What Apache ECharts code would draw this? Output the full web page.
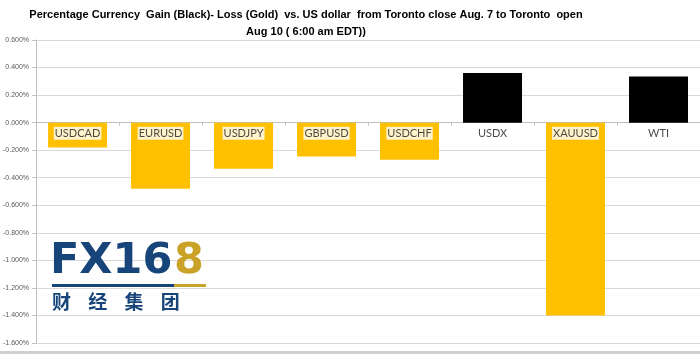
<!DOCTYPE html>
<html>
<head>
<meta charset="utf-8">
<script src="https://cdn.jsdelivr.net/npm/echarts@6/dist/echarts.min.js"></script>
<style>
  html, body { margin: 0; padding: 0; background: #fff; }
  #chart { width: 700px; height: 354px; }
</style>
</head>
<body>
<div id="chart"></div>
<script>
// pares e variação % vs USD
const categories = ['USDCAD', 'EURUSD', 'USDJPY', 'GBPUSD', 'USDCHF', 'USDX', 'XAUUSD', 'WTI'];
const changes = [-0.18, -0.48, -0.335, -0.245, -0.27, 0.36, -1.40, 0.335];
const yTicks = [-1.6, 0.6, 0.2]; // min, max, passo

const GOLD = '#FFC000';
const BLACK = '#000000';

const chart = echarts.init(document.getElementById('chart'));

const option = {
  animation: false,
  title: {
    text: 'Percentage Currency  Gain (Black)- Loss (Gold)  vs. US dollar  from Toronto close Aug. 7 to Toronto  open\nAug 10 ( 6:00 am EDT))',
    left: 301,
    top: 1,
    textAlign: 'center',
    textStyle: {
      fontFamily: 'Liberation Sans, sans-serif',
      fontSize: 11,
      fontWeight: 'bold',
      color: '#000',
      lineHeight: 17
    }
  },
  grid: { left: 32, right: 0, top: 40, bottom: 11 },
  xAxis: {
    type: 'category',
    data: categories,
    axisLine: { onZero: true, lineStyle: { color: '#bfbfbf' } },
    axisTick: { show: true, length: 3, lineStyle: { color: '#bfbfbf' } },
    axisLabel: { show: false }
  },
  yAxis: {
    type: 'value',
    min: yTicks[0],
    max: yTicks[1],
    interval: yTicks[2],
    axisLine: { show: true, lineStyle: { color: '#bfbfbf' } },
    axisTick: { show: true, length: 4, lineStyle: { color: '#bfbfbf' } },
    splitLine: { lineStyle: { color: '#d9d9d9' } },
    axisLabel: {
      fontSize: 7,
      color: '#595959',
      margin: 7,
      formatter: v => v.toFixed(3) + '%'
    }
  },
  series: [
    {
      type: 'bar',
      barWidth: 59,
      data: changes.map(v => ({
        value: v,
        itemStyle: { color: v >= 0 ? BLACK : GOLD }
      }))
    },
    {
      // rótulos das categorias logo abaixo da linha do zero
      type: 'scatter',
      z: 5,
      symbolSize: 2,
      itemStyle: { color: 'rgba(0,0,0,0)' },
      silent: true,
      data: categories.map(c => [c, 0]),
      label: {
        show: true,
        position: 'bottom',
        distance: 3,
        formatter: p => p.value[0],
        fontFamily: 'Lato, sans-serif',
        fontSize: 11,
        color: '#1a1a1a',
        textBorderWidth: 0,
        backgroundColor: '#fff',
        padding: [1, 1]
      }
    }
  ],
  graphic: [
    // marca d'água FX168
    {
      type: 'text', left: 50, top: 240, z: 1,
      style: { text: 'FX16', fill: '#17457a', font: 'bold 43px DejaVu Sans' }
    },
    {
      type: 'text', left: 174, top: 240, z: 1,
      style: { text: '8', fill: '#c9a227', font: 'bold 43px DejaVu Sans' }
    },
    { type: 'rect', shape: { x: 52, y: 284, width: 122, height: 3 }, style: { fill: '#17457a' }, z: 1 },
    { type: 'rect', shape: { x: 174, y: 284, width: 32, height: 3 }, style: { fill: '#c9a227' }, z: 1 },
    {
      type: 'text', left: 52, top: 292, z: 1,
      style: { text: '财    经    集    团', fill: '#17457a', font: 'bold 19px Noto Sans CJK SC' }
    },
    { type: 'rect', shape: { x: 0, y: 351, width: 700, height: 3 }, style: { fill: '#d0d0d0' }, z: 0 }
  ]
};

chart.setOption(option);
</script>
</body>
</html>
